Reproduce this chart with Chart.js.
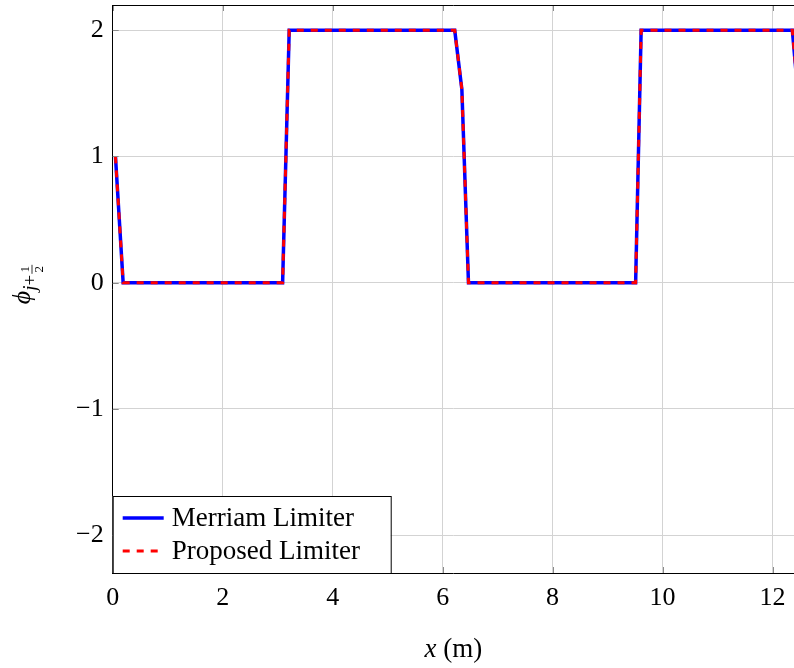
<!DOCTYPE html>
<html>
<head>
<meta charset="utf-8">
<script src="https://cdn.jsdelivr.net/npm/chart.js@4/dist/chart.umd.min.js"></script>
<style>
  html, body { margin: 0; padding: 0; background: #fff; }
  #wrap { width: 794px; height: 668px; }
</style>
</head>
<body>
<div id="wrap"><canvas id="lineChart" width="794" height="668"></canvas></div>
<script>
// limiter values along the channel
const xPos     = [0.05, 0.19, 3.09, 3.21, 6.22, 6.35, 6.47, 9.51, 9.61, 12.36, 12.46, 12.6];
const merriam  = [1,    0,    0,    2,    2,    1.53, 0,    0,    2,    2,     1.5,   0];
const proposed = [1,    0,    0,    2,    2,    1.53, 0,    0,    2,    2,     1.5,   0];
const seriesNames = ['Merriam Limiter', 'Proposed Limiter'];
const xTicks = [0, 2, 4, 6, 8, 10, 12];
const yTicks = [-2, -1, 0, 1, 2];

const serif = '"Liberation Serif", "DejaVu Serif", serif';

function pontos(ys) {
    return xPos.map((x, i) => ({ x: x, y: ys[i] }));
}

function semPadding(s) {
    s.paddingTop = 0; s.paddingBottom = 0;
    s.paddingLeft = 0; s.paddingRight = 0;
}

// marcas internas, borda superior, legenda e títulos
const extras = {
    id: 'extras',
    afterDatasetsDraw(chart) {
        const { ctx, chartArea: a, scales: { x, y } } = chart;
        ctx.save();
        // ticks voltados para dentro
        ctx.strokeStyle = '#8a8a8a';
        ctx.lineWidth = 1;
        xTicks.forEach(v => {
            const px = Math.round(x.getPixelForValue(v)) + 0.5;
            ctx.beginPath();
            ctx.moveTo(px, a.top); ctx.lineTo(px, a.top + 6);
            ctx.moveTo(px, a.bottom); ctx.lineTo(px, a.bottom - 6);
            ctx.stroke();
        });
        yTicks.forEach(v => {
            const py = Math.round(y.getPixelForValue(v)) + 0.5;
            ctx.beginPath();
            ctx.moveTo(a.left, py); ctx.lineTo(a.left + 6, py);
            ctx.stroke();
        });
        // borda superior
        ctx.strokeStyle = '#000';
        ctx.beginPath();
        ctx.moveTo(a.left, a.top + 0.5); ctx.lineTo(a.right, a.top + 0.5);
        ctx.stroke();

        // legenda (desenha na ordem dos nomes)
        const bx = a.left, by = 496, bw = 278, bh = a.bottom - 496;
        ctx.fillStyle = '#fff';
        ctx.fillRect(bx, by, bw, bh);
        ctx.strokeRect(bx + 0.5, by + 0.5, bw, bh);
        seriesNames.forEach((nome, i) => {
            const ds = chart.data.datasets.find(d => d.label === nome);
            const ly = by + 22 + i * 33;
            ctx.strokeStyle = ds.borderColor;
            ctx.lineWidth = ds.borderWidth;
            ctx.setLineDash(ds.borderDash || []);
            ctx.beginPath();
            ctx.moveTo(bx + 10, ly); ctx.lineTo(bx + 51, ly);
            ctx.stroke();
            ctx.setLineDash([]);
            ctx.fillStyle = '#000';
            ctx.font = '27px ' + serif;
            ctx.textBaseline = 'middle';
            ctx.textAlign = 'left';
            ctx.fillText(nome, bx + 59, ly + 1);
        });

        // título do eixo x
        ctx.fillStyle = '#000';
        ctx.strokeStyle = '#000';
        ctx.textBaseline = 'alphabetic';
        ctx.textAlign = 'left';
        ctx.font = 'italic 27px ' + serif;
        const w1 = ctx.measureText('x').width;
        ctx.font = '27px ' + serif;
        const w2 = ctx.measureText(' (m)').width;
        const cx = (a.left + a.right) / 2 - (w1 + w2) / 2;
        ctx.font = 'italic 27px ' + serif;
        ctx.fillText('x', cx, 657);
        ctx.font = '27px ' + serif;
        ctx.fillText(' (m)', cx + w1, 657);

        // título do eixo y: ϕ_{j+1/2}
        ctx.translate(30, 283);
        ctx.rotate(-Math.PI / 2);
        ctx.font = 'italic 26px ' + serif;
        const wPhi = ctx.measureText('\u03D5').width;
        ctx.font = 'italic 19px ' + serif;
        const wSub = ctx.measureText('j+').width;
        let sx = -(wPhi + wSub + 11) / 2;
        ctx.font = 'italic 26px ' + serif;
        ctx.fillText('\u03D5', sx, 0);
        sx += wPhi;
        ctx.font = 'italic 19px ' + serif;
        ctx.fillText('j', sx, 6);
        sx += ctx.measureText('j').width;
        ctx.font = '19px ' + serif;
        ctx.fillText('+', sx, 6);
        sx += ctx.measureText('+').width + 1;
        ctx.font = '13px ' + serif;
        ctx.textAlign = 'center';
        ctx.fillText('1', sx + 4.5, -1);
        ctx.fillText('2', sx + 4.5, 13);
        ctx.lineWidth = 0.8;
        ctx.beginPath();
        ctx.moveTo(sx, 2); ctx.lineTo(sx + 9, 2);
        ctx.stroke();
        ctx.restore();
    }
};

const ctx = document.getElementById('lineChart').getContext('2d');

new Chart(ctx, {
    type: 'line',
    data: {
        datasets: [{
            label: seriesNames[0],
            data: pontos(merriam),
            borderColor: '#0000ff',
            borderWidth: 3.5,
            pointRadius: 0,
            tension: 0,
            order: 2
        }, {
            label: seriesNames[1],
            data: pontos(proposed),
            borderColor: '#ff0000',
            borderWidth: 3,
            borderDash: [7, 7],
            pointRadius: 0,
            tension: 0,
            order: 1 // tracejado por cima da linha azul
        }]
    },
    options: {
        responsive: false,
        animation: false,
        layout: { padding: { top: 5, right: 0, left: 0, bottom: 0 } },
        plugins: {
            legend: { display: false },
            tooltip: { enabled: false }
        },
        scales: {
            x: {
                type: 'linear',
                min: 0,
                max: 12.39,
                afterFit: s => { s.height = 95; semPadding(s); },
                afterBuildTicks: s => { s.ticks = xTicks.map(v => ({ value: v })); },
                ticks: {
                    color: '#000',
                    padding: 10,
                    maxRotation: 0,
                    font: { family: serif, size: 26 }
                },
                grid: { color: '#d3d3d3', drawTicks: false },
                border: { color: '#000', width: 1 }
            },
            y: {
                min: -2.3,
                max: 2.2,
                afterFit: s => { s.width = 112.7; semPadding(s); },
                afterBuildTicks: s => { s.ticks = yTicks.map(v => ({ value: v })); },
                ticks: {
                    color: '#000',
                    padding: 9,
                    font: { family: serif, size: 26 },
                    callback: v => (v < 0 ? '\u2212' + Math.abs(v) : String(v))
                },
                grid: { color: '#d3d3d3', drawTicks: false },
                border: { color: '#000', width: 1 }
            }
        }
    },
    plugins: [extras]
});
</script>
</body>
</html>
